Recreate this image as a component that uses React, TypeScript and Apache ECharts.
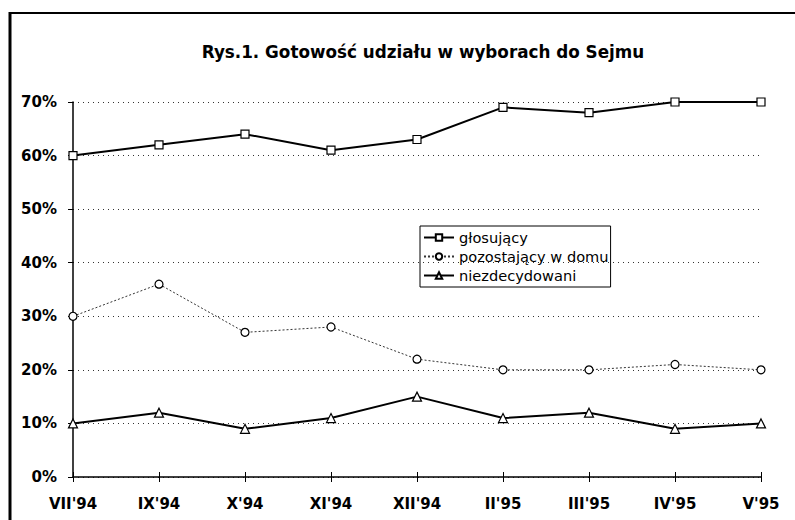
import React, { useEffect, useRef } from "react";
import * as echarts from "echarts";

const categories = ["VII'94", "IX'94", "X'94", "XI'94", "XII'94", "II'95", "III'95", "IV'95", "V'95"];
const glosujacy = [60, 62, 64, 61, 63, 69, 68, 70, 70];
const pozostajacy = [30, 36, 27, 28, 22, 20, 20, 21, 20];
const niezdecydowani = [10, 12, 9, 11, 15, 11, 12, 9, 10];
const titleText = "Rys.1. Gotowość udziału w wyborach do Sejmu";

const FONT = "DejaVu Sans";

export default function App() {
  const ref = useRef<HTMLDivElement>(null);
  useEffect(() => {
    if (!ref.current) return;
    const chart = echarts.init(ref.current, null, { renderer: "svg" });
    chart.setOption({
      animation: false,
      backgroundColor: "#fff",
      textStyle: { fontFamily: FONT },
      title: {
        text: titleText,
        left: 418,
        textAlign: "center",
        top: 38,
        textStyle: { fontFamily: FONT, fontSize: 16.8, fontWeight: "bold", color: "#000" },
      },
      grid: { left: 73, right: 34, top: 102, bottom: 43, containLabel: false },
      legend: {
        orient: "vertical",
        left: 420,
        top: 226,
        borderColor: "#000",
        borderWidth: 1,
        borderRadius: 0,
        padding: [4, 2, 4, 3],
        itemGap: 4,
        itemWidth: 30,
        itemHeight: 8,
        textStyle: { fontFamily: FONT, fontSize: 14.6, color: "#000", padding: [0, 0, 0, 0] },
        data: ["głosujący", "pozostający w domu", "niezdecydowani"],
      },
      xAxis: [
        {
          type: "category",
          data: categories,
          boundaryGap: false,
          axisLine: { lineStyle: { color: "#000", width: 1.5 } },
          axisTick: { show: true, length: 5, inside: false, lineStyle: { color: "#000" } },
          axisLabel: { fontFamily: FONT, fontSize: 15, fontWeight: "bold", color: "#000", margin: 19 },
          splitLine: { show: false },
        },
        {
          type: "category",
          data: categories,
          boundaryGap: false,
          position: "bottom",
          axisLine: { show: false },
          axisTick: { show: true, length: 5, inside: true, lineStyle: { color: "#000" } },
          axisLabel: { show: false },
          splitLine: { show: false },
        },
      ],
      yAxis: {
        type: "value",
        min: 0,
        max: 70,
        interval: 10,
        axisLine: { show: true, lineStyle: { color: "#000", width: 1.5 } },
        axisTick: { show: true, length: 5, lineStyle: { color: "#000" } },
        axisLabel: { formatter: "{value}%", fontFamily: FONT, fontSize: 15, fontWeight: "bold", color: "#000", margin: 16 },
        splitLine: { show: true, lineStyle: { type: [1, 4], color: "#333", width: 1 } },
      },
      series: [
        {
          name: "głosujący",
          type: "line",
          data: glosujacy,
          symbol: "rect",
          symbolSize: 8,
          showAllSymbol: true,
          lineStyle: { color: "#000", width: 2 },
          itemStyle: { color: "#fff", borderColor: "#000", borderWidth: 1.2 },
          z: 4,
        },
        {
          name: "pozostający w domu",
          type: "line",
          data: pozostajacy,
          symbol: "circle",
          symbolSize: 8,
          showAllSymbol: true,
          lineStyle: { color: "#333", width: 1, type: [2, 2] },
          itemStyle: { color: "#fff", borderColor: "#000", borderWidth: 1.2 },
          z: 3,
        },
        {
          name: "niezdecydowani",
          type: "line",
          data: niezdecydowani,
          symbol: "triangle",
          symbolSize: 9,
          showAllSymbol: true,
          lineStyle: { color: "#000", width: 2 },
          itemStyle: { color: "#fff", borderColor: "#000", borderWidth: 1.2 },
          z: 4,
        },
      ],
      graphic: [
        { type: "line", shape: { x1: 10, y1: 12, x2: 10, y2: 520 }, style: { stroke: "#000", lineWidth: 3 } },
        { type: "line", shape: { x1: 9, y1: 13, x2: 795, y2: 13 }, style: { stroke: "#000", lineWidth: 2 } },
      ],
    });
    return () => chart.dispose();
  }, []);
  return (
    <div
      ref={ref}
      style={{ position: "fixed", left: 0, top: 0, width: 795, height: 520, background: "#fff" }}
    />
  );
}
